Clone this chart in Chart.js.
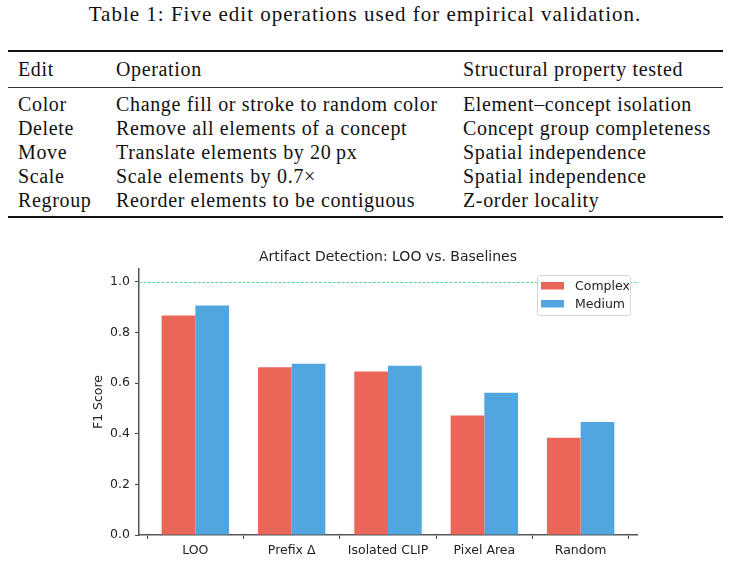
<!DOCTYPE html>
<html>
<head>
<meta charset="utf-8">
<script src="https://cdn.jsdelivr.net/npm/chart.js@4"></script>
<style>
  body { margin: 0; background: #fff; width: 730px; height: 562px; position: relative; overflow: hidden; }
  .caption {
    position: absolute; top: 2px; left: 0; width: 730px; text-align: center;
    font-family: "Liberation Serif", serif; font-size: 21px; letter-spacing: 1px; color: #111;
  }
  table {
    position: absolute; top: 50px; left: 8px; width: 715px;
    border-collapse: collapse; table-layout: fixed;
    font-family: "Liberation Serif", serif; font-size: 20px; letter-spacing: 0.65px; color: #111;
    border-top: 2px solid #111; border-bottom: 2px solid #111;
  }
  td { padding: 0; white-space: nowrap; height: 24px; line-height: 24px; }
  td:first-child { padding-left: 10px; }
  thead td { height: 35px; line-height: 35px; border-bottom: 1px solid #333; }
  tbody tr:first-child td { padding-top: 4px; }
  tbody tr:last-child td { padding-bottom: 4px; }
  #wrap { position: absolute; left: 0; top: 240px; width: 730px; height: 322px; }
</style>
</head>
<body>
<div class="caption">Table 1: Five edit operations used for empirical validation.</div>
<table>
  <colgroup><col style="width:108px"><col style="width:347px"><col></colgroup>
  <thead><tr><td>Edit</td><td>Operation</td><td>Structural property tested</td></tr></thead>
  <tbody>
    <tr><td>Color</td><td>Change fill or stroke to random color</td><td>Element–concept isolation</td></tr>
    <tr><td>Delete</td><td>Remove all elements of a concept</td><td>Concept group completeness</td></tr>
    <tr><td>Move</td><td>Translate elements by 20&#8201;px</td><td>Spatial independence</td></tr>
    <tr><td>Scale</td><td>Scale elements by 0.7×</td><td>Spatial independence</td></tr>
    <tr><td>Regroup</td><td>Reorder elements to be contiguous</td><td>Z-order locality</td></tr>
  </tbody>
</table>
<div id="wrap"><canvas id="myChart"></canvas></div>
<script>
// values
const methods = ["LOO", "Prefix Δ", "Isolated CLIP", "Pixel Area", "Random"];
const complexF1 = [0.866, 0.662, 0.645, 0.472, 0.384];
const mediumF1 = [0.906, 0.676, 0.668, 0.562, 0.446];
const yTicks = [0.0, 0.2, 0.4, 0.6, 0.8, 1.0];
const refLine = 1.0;
const chartTitle = "Artifact Detection: LOO vs. Baselines";

const ink = "#222";
const font = { family: "'DejaVu Sans', sans-serif", size: 12.5 };

// dashed green line at perfect score + title centred over the axes (like matplotlib)
const refLinePlugin = {
  id: "refLine",
  beforeDatasetsDraw(chart) {
    const { ctx, chartArea, scales } = chart;
    const y = Math.round(scales.y.getPixelForValue(refLine)) + 0.5;
    ctx.save();
    ctx.strokeStyle = "#62dc95";
    ctx.lineWidth = 1;
    ctx.setLineDash([3, 1.5]);
    ctx.beginPath();
    ctx.moveTo(chartArea.left, y);
    ctx.lineTo(chartArea.right, y);
    ctx.stroke();
    ctx.restore();
  },
  afterDraw(chart) {
    const { ctx, chartArea } = chart;
    ctx.save();
    ctx.font = "14px 'DejaVu Sans', sans-serif";
    ctx.fillStyle = ink;
    ctx.textAlign = "center";
    ctx.textBaseline = "middle";
    ctx.fillText(chartTitle, (chartArea.left + chartArea.right) / 2, chartArea.top - 12);
    ctx.restore();
  },
};

// matplotlib style legend in the upper right corner
const boxLegend = {
  id: "boxLegend",
  afterDraw(chart) {
    const { ctx, chartArea } = chart;
    const w = 93, h = 40;
    const x = chartArea.right - 7 - w, y = chartArea.top + 6;
    ctx.save();
    ctx.fillStyle = "rgba(255,255,255,0.85)";
    ctx.strokeStyle = "#d6d6d6";
    ctx.lineWidth = 1;
    ctx.beginPath();
    ctx.roundRect(x + 0.5, y + 0.5, w, h, 2);
    ctx.fill();
    ctx.stroke();
    ctx.font = "12.5px 'DejaVu Sans', sans-serif";
    ctx.textBaseline = "middle";
    chart.data.datasets.forEach((ds, i) => {
      const ry = y + 11 + i * 18;
      ctx.fillStyle = ds.backgroundColor;
      ctx.fillRect(x + 4, ry - 4, 23, 7.5);
      ctx.fillStyle = ink;
      ctx.fillText(ds.label, x + 38, ry + 0.5);
    });
    ctx.restore();
  },
};

const ctx = document.getElementById("myChart");
new Chart(ctx, {
  type: "bar",
  data: {
    datasets: [
      { label: "Complex", data: complexF1.map((v, i) => ({ x: i, y: v })), backgroundColor: "#ea6658", borderWidth: 0 },
      { label: "Medium", data: mediumF1.map((v, i) => ({ x: i, y: v })), backgroundColor: "#52a6e0", borderWidth: 0 },
    ],
  },
  options: {
    responsive: true,
    maintainAspectRatio: false,
    animation: false,
    categoryPercentage: 0.7,
    barPercentage: 1.0,
    layout: { padding: { left: 85, right: 93, top: 29, bottom: 0 } },
    plugins: {
      legend: { display: false },
      tooltip: { enabled: false },
      title: { display: false },
    },
    scales: {
      x: {
        type: "linear",
        min: -0.585,
        max: 4.585,
        offset: false,
        afterBuildTicks: (s) => { s.ticks = methods.map((m, i) => ({ value: i })); },
        afterFit: (s) => { s.height = 27; },
        ticks: {
          color: ink,
          font: font,
          padding: 4,
          autoSkip: false,
          maxRotation: 0,
          callback: (v) => methods[v],
        },
        grid: { drawOnChartArea: false, drawTicks: true, tickLength: 4, color: "#444", tickWidth: 1 },
        border: { display: true, color: "#555", width: 1.5 },
      },
      y: {
        min: 0,
        max: 1.05,
        afterBuildTicks: (s) => { s.ticks = yTicks.map((v) => ({ value: v })); },
        afterFit: (s) => { s.width = 54; },
        ticks: {
          color: ink,
          font: font,
          padding: 5,
          callback: (v) => v.toFixed(1),
        },
        title: { display: true, text: "F1 Score", color: ink, font: font, padding: { top: 6, bottom: 4 } },
        grid: { drawOnChartArea: false, drawTicks: true, tickLength: 4, color: "#444", tickWidth: 1 },
        border: { display: true, color: "#555", width: 1.5 },
      },
    },
  },
  plugins: [refLinePlugin, boxLegend],
});
</script>
</body>
</html>
